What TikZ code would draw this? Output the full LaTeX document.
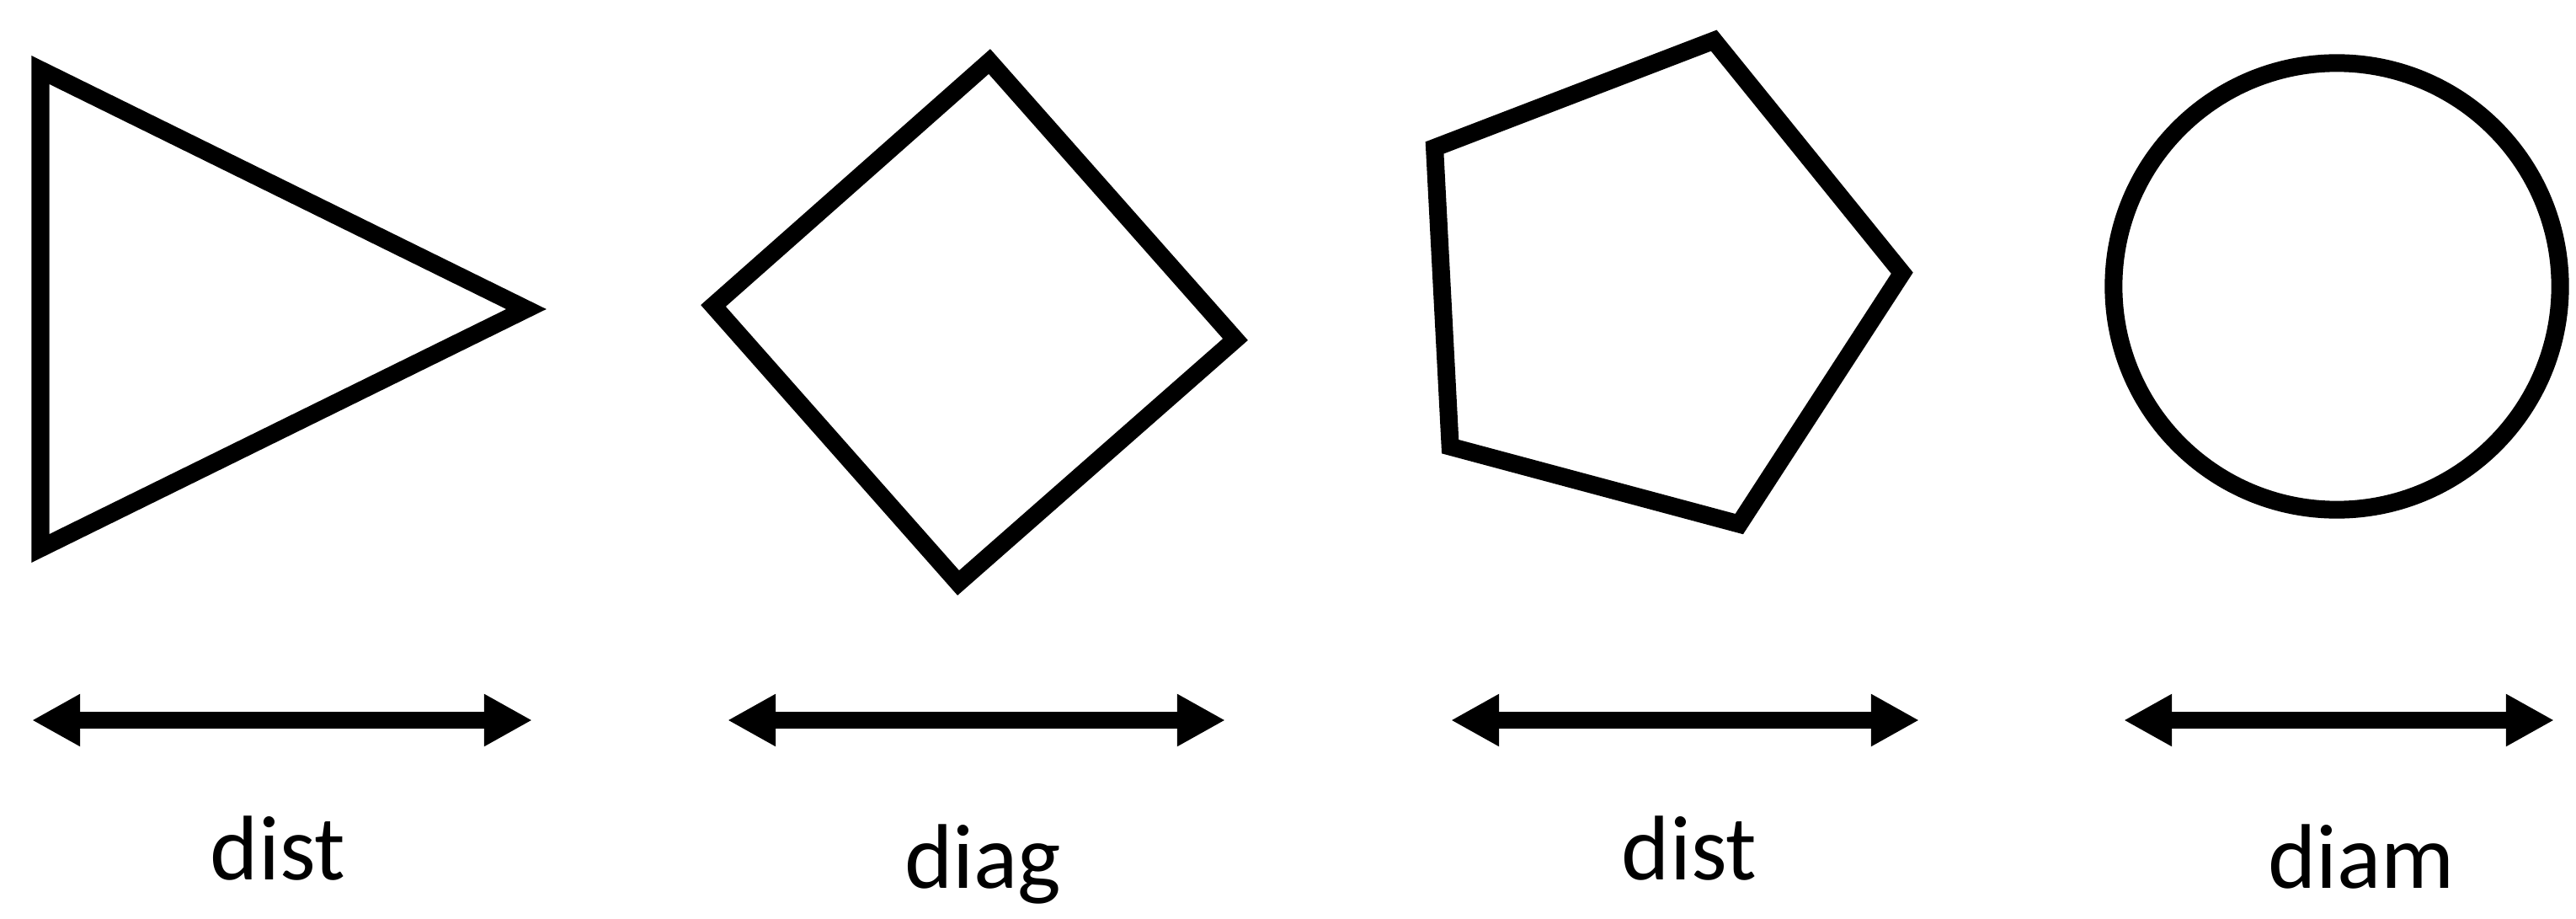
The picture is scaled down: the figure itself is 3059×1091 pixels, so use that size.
\documentclass[tikz,border=0pt]{standalone}
\usepackage{fontspec}
\setmainfont{Carlito}
\usetikzlibrary{arrows.meta}
\tikzset{
  outline/.style={draw,line width=0.21cm,miter limit=20},
  span/.style={draw,line width=0.2cm,
    {Triangle[length=0.57cm,width=0.58cm]}-{Triangle[length=0.57cm,width=0.58cm]}},
  tag/.style={anchor=base,inner sep=0pt,font=\fontsize{31}{37}\selectfont}}

\begin{document}
\begin{tikzpicture}[x=0.01cm,y=-0.01cm]
  \useasboundingbox (0,0) rectangle (3059,1091);
  % shapes
  \draw[outline] (48,83) -- (48,651) -- (625,367) -- cycle;
  \draw[outline] (847,363) -- (1175,73) -- (1467,403) -- (1138,692) -- cycle;
  \draw[outline,shift={(1957,340)}] (3:3.02cm) -- (75:3.02cm) -- (147:3.02cm)
    -- (219:3.02cm) -- (291:3.02cm) -- cycle;
  \draw[outline] (2775,340) circle [radius=2.65cm];
  % measures
  \coordinate (a1) at (38,855);   \coordinate (b1) at (632,855);
  \coordinate (a2) at (864,855);  \coordinate (b2) at (1455,855);
  \coordinate (a3) at (1723,855); \coordinate (b3) at (2279,855);
  \coordinate (a4) at (2522,855); \coordinate (b4) at (3033,855);
  \draw[span] (a1) -- (b1);
  \draw[span] (a2) -- (b2);
  \draw[span] (a3) -- (b3);
  \draw[span] (a4) -- (b4);
  \node[tag] (dist1) at (330,1044) {dist};
  \node[tag] (diag) at (1167,1054) {diag};
  \node[tag] (dist2) at (2006,1044) {dist};
  \node[tag] (diam) at (2804,1054) {diam};
\end{tikzpicture}
\end{document}
